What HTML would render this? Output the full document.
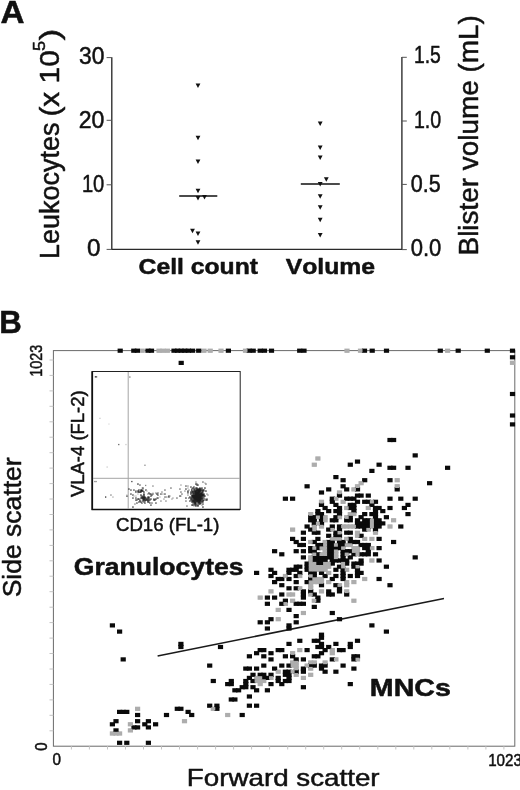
<!DOCTYPE html>
<html><head><meta charset="utf-8"><title>Figure</title>
<style>
html,body{margin:0;padding:0;background:#fff}
svg{display:block}
text{font-family:"Liberation Sans",sans-serif;fill:#111;stroke:#111;stroke-width:0.5px;stroke-linejoin:round;font-kerning:none}
.b{font-weight:bold}
</style></head><body>
<svg width="520" height="790" viewBox="0 0 520 790">
<rect width="520" height="790" fill="#fff"/>
<text x="0.62" y="22.7" font-size="31.5" textLength="24.0" lengthAdjust="spacingAndGlyphs" class="b">A</text>
<path d="M111.8 57.2V249.4H401.9V57" stroke="#2a2a2a" stroke-width="1.35" fill="none"/>
<path d="M106.6 57.6H111.8M106.6 120.3H111.8M106.6 184.8H111.8M106.6 249.4H111.8M401.9 57.3H406.8M401.9 121H406.8M401.9 184.4H406.8M401.9 249.6H406.8" stroke="#555" stroke-width="1" fill="none"/>
<text x="79.08" y="63.5" font-size="23" textLength="25.36" lengthAdjust="spacingAndGlyphs">30</text>
<text x="78.79" y="127.7" font-size="23" textLength="25.66" lengthAdjust="spacingAndGlyphs">20</text>
<text x="81.91" y="191.5" font-size="23" textLength="22.42" lengthAdjust="spacingAndGlyphs">10</text>
<text x="87.1" y="255.8" font-size="23" textLength="13.5" lengthAdjust="spacingAndGlyphs">0</text>
<text x="413.98" y="63.3" font-size="23" textLength="26.89" lengthAdjust="spacingAndGlyphs">1.5</text>
<text x="413.96" y="127.7" font-size="23" textLength="27.26" lengthAdjust="spacingAndGlyphs">1.0</text>
<text x="410.71" y="191.7" font-size="23" textLength="29.95" lengthAdjust="spacingAndGlyphs">0.5</text>
<text x="410.69" y="256" font-size="23" textLength="30.62" lengthAdjust="spacingAndGlyphs">0.0</text>
<text x="59.3" y="258.96" font-size="27.5" textLength="136.39" lengthAdjust="spacingAndGlyphs" transform="rotate(-90 59.3 258.96)">Leukocytes</text>
<text x="59.3" y="116.6" font-size="27.5" textLength="66.42" lengthAdjust="spacingAndGlyphs" transform="rotate(-90 59.3 116.6)">(x 10</text>
<text x="45.5" y="50.88" font-size="17" textLength="10.09" lengthAdjust="spacingAndGlyphs" transform="rotate(-90 45.5 50.88)">5</text>
<text x="59.3" y="40.46" font-size="27.5" textLength="11.81" lengthAdjust="spacingAndGlyphs" transform="rotate(-90 59.3 40.46)">)</text>
<text x="478.3" y="255.44" font-size="27.5" textLength="240.32" lengthAdjust="spacingAndGlyphs" transform="rotate(-90 478.3 255.44)">Blister volume (mL)</text>
<text x="138.64" y="273.8" font-size="22.6" textLength="119.31" lengthAdjust="spacingAndGlyphs" class="b">Cell count</text>
<text x="285.68" y="273.5" font-size="22.6" textLength="89.31" lengthAdjust="spacingAndGlyphs" class="b">Volume</text>
<g fill="#111"><path d="M195.6 83.4h4.8l-2.4 4.5z"/><path d="M195.6 135.7h4.8l-2.4 4.5z"/><path d="M195.6 159.4h4.8l-2.4 4.5z"/><path d="M195.6 188.7h4.8l-2.4 4.5z"/><path d="M195.6 196.1h4.8l-2.4 4.5z"/><path d="M202.1 194.9h4.8l-2.4 4.5z"/><path d="M190.1 228.7h4.8l-2.4 4.5z"/><path d="M195.6 231.4h4.8l-2.4 4.5z"/><path d="M195.6 240.2h4.8l-2.4 4.5z"/><path d="M317.8 121.6h4.8l-2.4 4.5z"/><path d="M317.8 145.6h4.8l-2.4 4.5z"/><path d="M317.8 155.4h4.8l-2.4 4.5z"/><path d="M323.9 177.3h4.8l-2.4 4.5z"/><path d="M317.8 181.9h4.8l-2.4 4.5z"/><path d="M317.8 194.2h4.8l-2.4 4.5z"/><path d="M317.8 205.3h4.8l-2.4 4.5z"/><path d="M317.8 217.7h4.8l-2.4 4.5z"/><path d="M317.8 232.9h4.8l-2.4 4.5z"/></g>
<path d="M179.2 196H217.3M300.8 184H339.8" stroke="#111" stroke-width="1.5"/>
<text x="-0.83" y="333" font-size="31" textLength="22.5" lengthAdjust="spacingAndGlyphs" class="b">B</text>
<rect x="53.4" y="350.6" width="461.4" height="395.6" fill="none" stroke="#6a6a6a" stroke-width="1"/>
<path d="M49.5 730.8H53.4M49.5 715.3H53.4M49.5 699.9H53.4M49.5 684.4H53.4M49.5 669.0H53.4M49.5 653.5H53.4M49.5 638.1H53.4M49.5 622.6H53.4M49.5 607.2H53.4M49.5 591.7H53.4M49.5 576.2H53.4M49.5 560.8H53.4M49.5 545.4H53.4M49.5 529.9H53.4M49.5 514.5H53.4M49.5 499.0H53.4M49.5 483.6H53.4M49.5 468.1H53.4M49.5 452.7H53.4M49.5 437.2H53.4M49.5 421.8H53.4M49.5 406.3H53.4M49.5 390.9H53.4M49.5 375.4H53.4M49.5 360.0H53.4M71.4 746.2V749.5M89.4 746.2V749.5M107.5 746.2V749.5M125.5 746.2V749.5M143.5 746.2V749.5M161.5 746.2V749.5M179.5 746.2V749.5M197.6 746.2V749.5M215.6 746.2V749.5M233.6 746.2V749.5M251.6 746.2V749.5M269.6 746.2V749.5M287.7 746.2V749.5M305.7 746.2V749.5M323.7 746.2V749.5M341.7 746.2V749.5M359.7 746.2V749.5M377.8 746.2V749.5M395.8 746.2V749.5M413.8 746.2V749.5M431.8 746.2V749.5M449.8 746.2V749.5M467.9 746.2V749.5M485.9 746.2V749.5M503.9 746.2V749.5" stroke="#c4c4c4" stroke-width="1"/>
<text x="41.7" y="376.85" font-size="16.3" textLength="32.03" lengthAdjust="spacingAndGlyphs" transform="rotate(-90 41.7 376.85)">1023</text>
<text x="47.1" y="750.83" font-size="16.5" textLength="8.26" lengthAdjust="spacingAndGlyphs" transform="rotate(-90 47.1 750.83)">0</text>
<text x="52.55" y="765.2" font-size="16.5" textLength="8.49" lengthAdjust="spacingAndGlyphs">0</text>
<text x="488.2" y="765.6" font-size="16.3" textLength="33.72" lengthAdjust="spacingAndGlyphs">1023</text>
<text x="21.5" y="597.35" font-size="25.6" textLength="140.04" lengthAdjust="spacingAndGlyphs" transform="rotate(-90 21.5 597.35)">Side scatter</text>
<text x="186.87" y="786.4" font-size="24" textLength="192.74" lengthAdjust="spacingAndGlyphs">Forward scatter</text>
<text x="73.76" y="574.6" font-size="23.7" textLength="169.78" lengthAdjust="spacingAndGlyphs" class="b">Granulocytes</text>
<text x="369.84" y="695.5" font-size="23.7" textLength="81.09" lengthAdjust="spacingAndGlyphs" class="b">MNCs</text>
<path d="M157.6 656L444 598.4" stroke="#1a1a1a" stroke-width="1.5"/>
<rect x="92" y="371.5" width="148.2" height="138" fill="#fff" stroke="#222" stroke-width="1"/>
<path d="M92.3 371.5V509.5H240" fill="none" stroke="#111" stroke-width="1.6"/>
<path d="M128.2 372V509M93 478.3H240" stroke="#a4a4a4" stroke-width="1" fill="none"/>
<text x="84.4" y="497.03" font-size="18" textLength="106.73" lengthAdjust="spacingAndGlyphs" stroke-width="0.2" transform="rotate(-90 84.4 497.03)">VLA-4 (FL-2)</text>
<text x="116.01" y="531" font-size="18.6" textLength="103.4" lengthAdjust="spacingAndGlyphs" stroke-width="0.2">CD16 (FL-1)</text>
<g><rect x="139.3" y="491.4" width="1.3" height="1.3" fill="#000"/><rect x="137.3" y="491.4" width="1.3" height="1.3" fill="#000"/><rect x="143.3" y="491.4" width="1.3" height="1.3" fill="#000"/><rect x="137.3" y="490.4" width="1.3" height="1.3" fill="#000"/><rect x="140.3" y="490.4" width="1.3" height="1.3" fill="#111"/><rect x="140.3" y="489.4" width="1.3" height="1.3" fill="#000"/><rect x="138.3" y="489.4" width="1.3" height="1.3" fill="#000"/><rect x="140.3" y="491.4" width="1.3" height="1.3" fill="#000"/><rect x="141.3" y="489.4" width="1.3" height="1.3" fill="#000"/><rect x="141.3" y="490.4" width="1.3" height="1.3" fill="#000"/><rect x="138.3" y="491.4" width="1.3" height="1.3" fill="#111"/><rect x="142.3" y="490.4" width="1.3" height="1.3" fill="#000"/><rect x="143.3" y="493.4" width="1.3" height="1.3" fill="#000"/><rect x="135.3" y="491.4" width="1.3" height="1.3" fill="#111"/><rect x="144.3" y="497.4" width="1.3" height="1.3" fill="#222"/><rect x="146.3" y="499.4" width="1.3" height="1.3" fill="#111"/><rect x="144.3" y="496.4" width="1.3" height="1.3" fill="#111"/><rect x="147.3" y="499.4" width="1.3" height="1.3" fill="#000"/><rect x="153.3" y="498.4" width="1.3" height="1.3" fill="#222"/><rect x="140.3" y="501.4" width="1.3" height="1.3" fill="#000"/><rect x="149.3" y="502.4" width="1.3" height="1.3" fill="#222"/><rect x="142.3" y="497.4" width="1.3" height="1.3" fill="#000"/><rect x="144.3" y="499.4" width="1.3" height="1.3" fill="#222"/><rect x="142.3" y="499.4" width="1.3" height="1.3" fill="#000"/><rect x="146.3" y="498.4" width="1.3" height="1.3" fill="#000"/><rect x="144.3" y="500.4" width="1.3" height="1.3" fill="#111"/><rect x="138.3" y="498.4" width="1.3" height="1.3" fill="#111"/><rect x="145.3" y="499.4" width="1.3" height="1.3" fill="#000"/><rect x="145.3" y="497.4" width="1.3" height="1.3" fill="#000"/><rect x="147.3" y="500.4" width="1.3" height="1.3" fill="#222"/><rect x="147.3" y="501.4" width="1.3" height="1.3" fill="#111"/><rect x="140.3" y="497.4" width="1.3" height="1.3" fill="#000"/><rect x="148.3" y="499.4" width="1.3" height="1.3" fill="#111"/><rect x="135.3" y="499.4" width="1.3" height="1.3" fill="#111"/><rect x="143.3" y="499.4" width="1.3" height="1.3" fill="#222"/><rect x="135.3" y="497.4" width="1.3" height="1.3" fill="#222"/><rect x="143.3" y="497.4" width="1.3" height="1.3" fill="#111"/><rect x="142.3" y="498.4" width="1.3" height="1.3" fill="#000"/><rect x="142.3" y="500.4" width="1.3" height="1.3" fill="#000"/><rect x="150.3" y="498.4" width="1.3" height="1.3" fill="#111"/><rect x="132.3" y="497.4" width="1.3" height="1.3" fill="#222"/><rect x="144.3" y="498.4" width="1.3" height="1.3" fill="#111"/><rect x="140.3" y="494.4" width="1.3" height="1.3" fill="#000"/><rect x="143.3" y="496.4" width="1.3" height="1.3" fill="#000"/><rect x="149.3" y="499.4" width="1.3" height="1.3" fill="#222"/><rect x="154.3" y="499.4" width="1.3" height="1.3" fill="#222"/><rect x="141.3" y="495.4" width="1.3" height="1.3" fill="#111"/><rect x="139.3" y="500.4" width="1.3" height="1.3" fill="#000"/><rect x="147.3" y="497.4" width="1.3" height="1.3" fill="#000"/><rect x="147.3" y="496.4" width="1.3" height="1.3" fill="#222"/><rect x="141.3" y="497.4" width="1.3" height="1.3" fill="#000"/><rect x="142.3" y="496.4" width="1.3" height="1.3" fill="#111"/><rect x="155.3" y="498.4" width="1.3" height="1.3" fill="#000"/><rect x="137.3" y="498.4" width="1.3" height="1.3" fill="#111"/><rect x="143.3" y="498.4" width="1.3" height="1.3" fill="#111"/><rect x="148.3" y="501.4" width="1.3" height="1.3" fill="#222"/><rect x="148.3" y="497.4" width="1.3" height="1.3" fill="#000"/><rect x="138.3" y="501.4" width="1.3" height="1.3" fill="#222"/><rect x="133.3" y="489.4" width="1.3" height="1.3" fill="#222"/><rect x="152.3" y="492.4" width="1.3" height="1.3" fill="#bbb"/><rect x="151.3" y="494.4" width="1.3" height="1.3" fill="#222"/><rect x="126.3" y="495.4" width="1.3" height="1.3" fill="#111"/><rect x="139.3" y="484.4" width="1.3" height="1.3" fill="#444"/><rect x="147.3" y="493.4" width="1.3" height="1.3" fill="#777"/><rect x="136.3" y="499.4" width="1.3" height="1.3" fill="#444"/><rect x="141.3" y="487.4" width="1.3" height="1.3" fill="#bbb"/><rect x="141.3" y="496.4" width="1.3" height="1.3" fill="#111"/><rect x="143.3" y="501.4" width="1.3" height="1.3" fill="#444"/><rect x="137.3" y="493.4" width="1.3" height="1.3" fill="#bbb"/><rect x="150.3" y="495.4" width="1.3" height="1.3" fill="#111"/><rect x="151.3" y="502.4" width="1.3" height="1.3" fill="#444"/><rect x="135.3" y="490.4" width="1.3" height="1.3" fill="#444"/><rect x="160.3" y="493.4" width="1.3" height="1.3" fill="#222"/><rect x="148.3" y="492.4" width="1.3" height="1.3" fill="#111"/><rect x="145.3" y="489.4" width="1.3" height="1.3" fill="#111"/><rect x="148.3" y="498.4" width="1.3" height="1.3" fill="#444"/><rect x="155.3" y="502.4" width="1.3" height="1.3" fill="#222"/><rect x="165.3" y="500.4" width="1.3" height="1.3" fill="#777"/><rect x="153.3" y="499.4" width="1.3" height="1.3" fill="#111"/><rect x="152.3" y="485.4" width="1.3" height="1.3" fill="#777"/><rect x="132.3" y="506.4" width="1.3" height="1.3" fill="#111"/><rect x="142.3" y="487.4" width="1.3" height="1.3" fill="#111"/><rect x="150.3" y="504.4" width="1.3" height="1.3" fill="#111"/><rect x="157.3" y="494.4" width="1.3" height="1.3" fill="#222"/><rect x="144.3" y="502.4" width="1.3" height="1.3" fill="#111"/><rect x="139.3" y="499.4" width="1.3" height="1.3" fill="#444"/><rect x="143.3" y="495.4" width="1.3" height="1.3" fill="#111"/><rect x="136.3" y="502.4" width="1.3" height="1.3" fill="#222"/><rect x="155.3" y="492.4" width="1.3" height="1.3" fill="#777"/><rect x="156.3" y="493.4" width="1.3" height="1.3" fill="#111"/><rect x="146.3" y="490.4" width="1.3" height="1.3" fill="#bbb"/><rect x="141.3" y="502.4" width="1.3" height="1.3" fill="#222"/><rect x="126.3" y="494.4" width="1.3" height="1.3" fill="#bbb"/><rect x="150.3" y="503.4" width="1.3" height="1.3" fill="#bbb"/><rect x="132.3" y="494.4" width="1.3" height="1.3" fill="#222"/><rect x="143.3" y="494.4" width="1.3" height="1.3" fill="#111"/><rect x="135.3" y="495.4" width="1.3" height="1.3" fill="#bbb"/><rect x="148.3" y="496.4" width="1.3" height="1.3" fill="#222"/><rect x="156.3" y="497.4" width="1.3" height="1.3" fill="#777"/><rect x="161.3" y="491.4" width="1.3" height="1.3" fill="#777"/><rect x="134.3" y="503.4" width="1.3" height="1.3" fill="#777"/><rect x="140.3" y="495.4" width="1.3" height="1.3" fill="#777"/><rect x="128.3" y="488.4" width="1.3" height="1.3" fill="#222"/><rect x="137.3" y="483.4" width="1.3" height="1.3" fill="#111"/><rect x="147.3" y="498.4" width="1.3" height="1.3" fill="#444"/><rect x="141.3" y="499.4" width="1.3" height="1.3" fill="#bbb"/><rect x="133.3" y="495.4" width="1.3" height="1.3" fill="#bbb"/><rect x="142.3" y="488.4" width="1.3" height="1.3" fill="#777"/><rect x="159.3" y="496.4" width="1.3" height="1.3" fill="#bbb"/><rect x="136.3" y="491.4" width="1.3" height="1.3" fill="#bbb"/><rect x="130.3" y="489.4" width="1.3" height="1.3" fill="#222"/><rect x="157.3" y="492.4" width="1.3" height="1.3" fill="#444"/><rect x="152.3" y="493.4" width="1.3" height="1.3" fill="#444"/><rect x="150.3" y="493.4" width="1.3" height="1.3" fill="#222"/><rect x="149.3" y="493.4" width="1.3" height="1.3" fill="#222"/><rect x="160.3" y="500.4" width="1.3" height="1.3" fill="#777"/><rect x="130.3" y="493.4" width="1.3" height="1.3" fill="#222"/><rect x="157.3" y="497.4" width="1.3" height="1.3" fill="#222"/><rect x="176.3" y="497.4" width="1.3" height="1.3" fill="#555"/><rect x="185.3" y="488.4" width="1.3" height="1.3" fill="#222"/><rect x="164.3" y="489.4" width="1.3" height="1.3" fill="#555"/><rect x="168.3" y="495.4" width="1.3" height="1.3" fill="#222"/><rect x="180.3" y="495.4" width="1.3" height="1.3" fill="#999"/><rect x="168.3" y="496.4" width="1.3" height="1.3" fill="#222"/><rect x="180.3" y="484.4" width="1.3" height="1.3" fill="#999"/><rect x="169.3" y="495.4" width="1.3" height="1.3" fill="#999"/><rect x="163.3" y="498.4" width="1.3" height="1.3" fill="#999"/><rect x="164.3" y="496.4" width="1.3" height="1.3" fill="#555"/><rect x="179.3" y="495.4" width="1.3" height="1.3" fill="#222"/><rect x="171.3" y="498.4" width="1.3" height="1.3" fill="#999"/><rect x="164.3" y="493.4" width="1.3" height="1.3" fill="#222"/><rect x="165.3" y="496.4" width="1.3" height="1.3" fill="#999"/><rect x="179.3" y="488.4" width="1.3" height="1.3" fill="#555"/><rect x="162.3" y="493.4" width="1.3" height="1.3" fill="#999"/><rect x="181.3" y="493.4" width="1.3" height="1.3" fill="#555"/><rect x="166.3" y="496.4" width="1.3" height="1.3" fill="#999"/><rect x="170.3" y="487.4" width="1.3" height="1.3" fill="#555"/><rect x="172.3" y="497.4" width="1.3" height="1.3" fill="#999"/><rect x="195.3" y="489.4" width="1.3" height="1.3" fill="#000"/><rect x="192.3" y="499.4" width="1.3" height="1.3" fill="#000"/><rect x="197.3" y="492.4" width="1.3" height="1.3" fill="#000"/><rect x="200.3" y="496.4" width="1.3" height="1.3" fill="#000"/><rect x="197.3" y="505.4" width="1.3" height="1.3" fill="#000"/><rect x="194.3" y="500.4" width="1.3" height="1.3" fill="#111"/><rect x="193.3" y="494.4" width="1.3" height="1.3" fill="#000"/><rect x="193.3" y="490.4" width="1.3" height="1.3" fill="#000"/><rect x="197.3" y="495.4" width="1.3" height="1.3" fill="#000"/><rect x="196.3" y="492.4" width="1.3" height="1.3" fill="#000"/><rect x="191.3" y="495.4" width="1.3" height="1.3" fill="#111"/><rect x="199.3" y="496.4" width="1.3" height="1.3" fill="#000"/><rect x="200.3" y="492.4" width="1.3" height="1.3" fill="#111"/><rect x="201.3" y="494.4" width="1.3" height="1.3" fill="#000"/><rect x="192.3" y="493.4" width="1.3" height="1.3" fill="#000"/><rect x="191.3" y="501.4" width="1.3" height="1.3" fill="#222"/><rect x="195.3" y="496.4" width="1.3" height="1.3" fill="#000"/><rect x="192.3" y="494.4" width="1.3" height="1.3" fill="#000"/><rect x="200.3" y="494.4" width="1.3" height="1.3" fill="#111"/><rect x="194.3" y="493.4" width="1.3" height="1.3" fill="#000"/><rect x="194.3" y="496.4" width="1.3" height="1.3" fill="#000"/><rect x="194.3" y="490.4" width="1.3" height="1.3" fill="#000"/><rect x="194.3" y="492.4" width="1.3" height="1.3" fill="#111"/><rect x="206.3" y="499.4" width="1.3" height="1.3" fill="#111"/><rect x="203.3" y="499.4" width="1.3" height="1.3" fill="#111"/><rect x="198.3" y="496.4" width="1.3" height="1.3" fill="#000"/><rect x="202.3" y="503.4" width="1.3" height="1.3" fill="#111"/><rect x="195.3" y="494.4" width="1.3" height="1.3" fill="#000"/><rect x="195.3" y="497.4" width="1.3" height="1.3" fill="#000"/><rect x="192.3" y="497.4" width="1.3" height="1.3" fill="#000"/><rect x="193.3" y="492.4" width="1.3" height="1.3" fill="#000"/><rect x="193.3" y="500.4" width="1.3" height="1.3" fill="#000"/><rect x="202.3" y="493.4" width="1.3" height="1.3" fill="#111"/><rect x="193.3" y="496.4" width="1.3" height="1.3" fill="#000"/><rect x="198.3" y="490.4" width="1.3" height="1.3" fill="#000"/><rect x="196.3" y="501.4" width="1.3" height="1.3" fill="#000"/><rect x="199.3" y="495.4" width="1.3" height="1.3" fill="#000"/><rect x="196.3" y="494.4" width="1.3" height="1.3" fill="#000"/><rect x="194.3" y="501.4" width="1.3" height="1.3" fill="#000"/><rect x="198.3" y="491.4" width="1.3" height="1.3" fill="#000"/><rect x="191.3" y="498.4" width="1.3" height="1.3" fill="#111"/><rect x="198.3" y="492.4" width="1.3" height="1.3" fill="#000"/><rect x="195.3" y="502.4" width="1.3" height="1.3" fill="#000"/><rect x="194.3" y="497.4" width="1.3" height="1.3" fill="#000"/><rect x="193.3" y="497.4" width="1.3" height="1.3" fill="#000"/><rect x="194.3" y="503.4" width="1.3" height="1.3" fill="#000"/><rect x="195.3" y="491.4" width="1.3" height="1.3" fill="#000"/><rect x="196.3" y="497.4" width="1.3" height="1.3" fill="#000"/><rect x="195.3" y="492.4" width="1.3" height="1.3" fill="#000"/><rect x="195.3" y="499.4" width="1.3" height="1.3" fill="#000"/><rect x="202.3" y="499.4" width="1.3" height="1.3" fill="#000"/><rect x="194.3" y="498.4" width="1.3" height="1.3" fill="#000"/><rect x="198.3" y="489.4" width="1.3" height="1.3" fill="#000"/><rect x="199.3" y="501.4" width="1.3" height="1.3" fill="#111"/><rect x="197.3" y="493.4" width="1.3" height="1.3" fill="#000"/><rect x="193.3" y="489.4" width="1.3" height="1.3" fill="#000"/><rect x="194.3" y="494.4" width="1.3" height="1.3" fill="#000"/><rect x="195.3" y="498.4" width="1.3" height="1.3" fill="#000"/><rect x="198.3" y="494.4" width="1.3" height="1.3" fill="#000"/><rect x="202.3" y="500.4" width="1.3" height="1.3" fill="#111"/><rect x="197.3" y="498.4" width="1.3" height="1.3" fill="#000"/><rect x="197.3" y="491.4" width="1.3" height="1.3" fill="#000"/><rect x="193.3" y="495.4" width="1.3" height="1.3" fill="#000"/><rect x="195.3" y="487.4" width="1.3" height="1.3" fill="#111"/><rect x="197.3" y="484.4" width="1.3" height="1.3" fill="#111"/><rect x="200.3" y="490.4" width="1.3" height="1.3" fill="#000"/><rect x="203.3" y="489.4" width="1.3" height="1.3" fill="#000"/><rect x="191.3" y="494.4" width="1.3" height="1.3" fill="#000"/><rect x="191.3" y="496.4" width="1.3" height="1.3" fill="#000"/><rect x="201.3" y="492.4" width="1.3" height="1.3" fill="#000"/><rect x="190.3" y="491.4" width="1.3" height="1.3" fill="#000"/><rect x="196.3" y="498.4" width="1.3" height="1.3" fill="#000"/><rect x="199.3" y="493.4" width="1.3" height="1.3" fill="#000"/><rect x="191.3" y="488.4" width="1.3" height="1.3" fill="#222"/><rect x="199.3" y="492.4" width="1.3" height="1.3" fill="#111"/><rect x="197.3" y="497.4" width="1.3" height="1.3" fill="#000"/><rect x="202.3" y="494.4" width="1.3" height="1.3" fill="#000"/><rect x="197.3" y="494.4" width="1.3" height="1.3" fill="#000"/><rect x="202.3" y="490.4" width="1.3" height="1.3" fill="#111"/><rect x="190.3" y="486.4" width="1.3" height="1.3" fill="#111"/><rect x="196.3" y="495.4" width="1.3" height="1.3" fill="#000"/><rect x="203.3" y="495.4" width="1.3" height="1.3" fill="#111"/><rect x="198.3" y="500.4" width="1.3" height="1.3" fill="#000"/><rect x="200.3" y="502.4" width="1.3" height="1.3" fill="#111"/><rect x="201.3" y="495.4" width="1.3" height="1.3" fill="#000"/><rect x="196.3" y="491.4" width="1.3" height="1.3" fill="#000"/><rect x="201.3" y="489.4" width="1.3" height="1.3" fill="#111"/><rect x="197.3" y="490.4" width="1.3" height="1.3" fill="#000"/><rect x="193.3" y="504.4" width="1.3" height="1.3" fill="#222"/><rect x="198.3" y="497.4" width="1.3" height="1.3" fill="#000"/><rect x="200.3" y="499.4" width="1.3" height="1.3" fill="#111"/><rect x="198.3" y="499.4" width="1.3" height="1.3" fill="#000"/><rect x="206.3" y="498.4" width="1.3" height="1.3" fill="#222"/><rect x="196.3" y="496.4" width="1.3" height="1.3" fill="#000"/><rect x="197.3" y="488.4" width="1.3" height="1.3" fill="#111"/><rect x="189.3" y="496.4" width="1.3" height="1.3" fill="#000"/><rect x="196.3" y="490.4" width="1.3" height="1.3" fill="#111"/><rect x="202.3" y="495.4" width="1.3" height="1.3" fill="#000"/><rect x="197.3" y="499.4" width="1.3" height="1.3" fill="#000"/><rect x="199.3" y="490.4" width="1.3" height="1.3" fill="#000"/><rect x="196.3" y="500.4" width="1.3" height="1.3" fill="#000"/><rect x="192.3" y="492.4" width="1.3" height="1.3" fill="#000"/><rect x="197.3" y="500.4" width="1.3" height="1.3" fill="#000"/><rect x="195.3" y="504.4" width="1.3" height="1.3" fill="#111"/><rect x="195.3" y="501.4" width="1.3" height="1.3" fill="#111"/><rect x="199.3" y="498.4" width="1.3" height="1.3" fill="#000"/><rect x="193.3" y="498.4" width="1.3" height="1.3" fill="#000"/><rect x="200.3" y="489.4" width="1.3" height="1.3" fill="#111"/><rect x="200.3" y="493.4" width="1.3" height="1.3" fill="#000"/><rect x="200.3" y="495.4" width="1.3" height="1.3" fill="#000"/><rect x="194.3" y="495.4" width="1.3" height="1.3" fill="#000"/><rect x="192.3" y="487.4" width="1.3" height="1.3" fill="#000"/><rect x="198.3" y="502.4" width="1.3" height="1.3" fill="#000"/><rect x="201.3" y="491.4" width="1.3" height="1.3" fill="#111"/><rect x="200.3" y="500.4" width="1.3" height="1.3" fill="#000"/><rect x="197.3" y="496.4" width="1.3" height="1.3" fill="#000"/><rect x="195.3" y="500.4" width="1.3" height="1.3" fill="#111"/><rect x="198.3" y="493.4" width="1.3" height="1.3" fill="#000"/><rect x="199.3" y="502.4" width="1.3" height="1.3" fill="#111"/><rect x="195.3" y="493.4" width="1.3" height="1.3" fill="#000"/><rect x="196.3" y="493.4" width="1.3" height="1.3" fill="#000"/><rect x="198.3" y="498.4" width="1.3" height="1.3" fill="#000"/><rect x="202.3" y="506.4" width="1.3" height="1.3" fill="#111"/><rect x="199.3" y="503.4" width="1.3" height="1.3" fill="#000"/><rect x="191.3" y="489.4" width="1.3" height="1.3" fill="#222"/><rect x="204.3" y="495.4" width="1.3" height="1.3" fill="#000"/><rect x="192.3" y="491.4" width="1.3" height="1.3" fill="#000"/><rect x="191.3" y="492.4" width="1.3" height="1.3" fill="#111"/><rect x="194.3" y="488.4" width="1.3" height="1.3" fill="#222"/><rect x="200.3" y="497.4" width="1.3" height="1.3" fill="#000"/><rect x="199.3" y="499.4" width="1.3" height="1.3" fill="#000"/><rect x="200.3" y="498.4" width="1.3" height="1.3" fill="#000"/><rect x="192.3" y="500.4" width="1.3" height="1.3" fill="#000"/><rect x="192.3" y="495.4" width="1.3" height="1.3" fill="#000"/><rect x="196.3" y="499.4" width="1.3" height="1.3" fill="#000"/><rect x="196.3" y="488.4" width="1.3" height="1.3" fill="#111"/><rect x="197.3" y="489.4" width="1.3" height="1.3" fill="#000"/><rect x="190.3" y="498.4" width="1.3" height="1.3" fill="#222"/><rect x="192.3" y="496.4" width="1.3" height="1.3" fill="#000"/><rect x="192.3" y="501.4" width="1.3" height="1.3" fill="#111"/><rect x="201.3" y="501.4" width="1.3" height="1.3" fill="#222"/><rect x="203.3" y="493.4" width="1.3" height="1.3" fill="#111"/><rect x="196.3" y="487.4" width="1.3" height="1.3" fill="#111"/><rect x="202.3" y="501.4" width="1.3" height="1.3" fill="#222"/><rect x="199.3" y="488.4" width="1.3" height="1.3" fill="#111"/><rect x="202.3" y="497.4" width="1.3" height="1.3" fill="#000"/><rect x="200.3" y="488.4" width="1.3" height="1.3" fill="#222"/><rect x="191.3" y="504.4" width="1.3" height="1.3" fill="#111"/><rect x="205.3" y="490.4" width="1.3" height="1.3" fill="#000"/><rect x="193.3" y="486.4" width="1.3" height="1.3" fill="#111"/><rect x="199.3" y="500.4" width="1.3" height="1.3" fill="#000"/><rect x="204.3" y="487.4" width="1.3" height="1.3" fill="#000"/><rect x="197.3" y="501.4" width="1.3" height="1.3" fill="#111"/><rect x="192.3" y="490.4" width="1.3" height="1.3" fill="#111"/><rect x="195.3" y="483.4" width="1.3" height="1.3" fill="#000"/><rect x="191.3" y="500.4" width="1.3" height="1.3" fill="#222"/><rect x="197.3" y="502.4" width="1.3" height="1.3" fill="#222"/><rect x="199.3" y="491.4" width="1.3" height="1.3" fill="#000"/><rect x="185.3" y="497.4" width="1.3" height="1.3" fill="#111"/><rect x="191.3" y="499.4" width="1.3" height="1.3" fill="#222"/><rect x="195.3" y="505.4" width="1.3" height="1.3" fill="#111"/><rect x="199.3" y="497.4" width="1.3" height="1.3" fill="#000"/><rect x="199.3" y="489.4" width="1.3" height="1.3" fill="#000"/><rect x="197.3" y="504.4" width="1.3" height="1.3" fill="#000"/><rect x="198.3" y="495.4" width="1.3" height="1.3" fill="#000"/><rect x="189.3" y="500.4" width="1.3" height="1.3" fill="#111"/><rect x="199.3" y="494.4" width="1.3" height="1.3" fill="#000"/><rect x="201.3" y="500.4" width="1.3" height="1.3" fill="#222"/><rect x="205.3" y="499.4" width="1.3" height="1.3" fill="#222"/><rect x="201.3" y="496.4" width="1.3" height="1.3" fill="#111"/><rect x="187.3" y="491.4" width="1.3" height="1.3" fill="#222"/><rect x="201.3" y="487.4" width="1.3" height="1.3" fill="#111"/><rect x="194.3" y="499.4" width="1.3" height="1.3" fill="#000"/><rect x="203.3" y="494.4" width="1.3" height="1.3" fill="#111"/><rect x="194.3" y="491.4" width="1.3" height="1.3" fill="#000"/><rect x="193.3" y="488.4" width="1.3" height="1.3" fill="#111"/><rect x="201.3" y="493.4" width="1.3" height="1.3" fill="#000"/><rect x="195.3" y="495.4" width="1.3" height="1.3" fill="#000"/><rect x="190.3" y="497.4" width="1.3" height="1.3" fill="#111"/><rect x="193.3" y="501.4" width="1.3" height="1.3" fill="#111"/><rect x="198.3" y="488.4" width="1.3" height="1.3" fill="#000"/><rect x="195.3" y="490.4" width="1.3" height="1.3" fill="#000"/><rect x="198.3" y="501.4" width="1.3" height="1.3" fill="#000"/><rect x="202.3" y="491.4" width="1.3" height="1.3" fill="#000"/><rect x="192.3" y="504.4" width="1.3" height="1.3" fill="#111"/><rect x="199.3" y="487.4" width="1.3" height="1.3" fill="#000"/><rect x="201.3" y="497.4" width="1.3" height="1.3" fill="#111"/><rect x="194.3" y="502.4" width="1.3" height="1.3" fill="#000"/><rect x="195.3" y="503.4" width="1.3" height="1.3" fill="#111"/><rect x="193.3" y="502.4" width="1.3" height="1.3" fill="#111"/><rect x="196.3" y="489.4" width="1.3" height="1.3" fill="#000"/><rect x="190.3" y="493.4" width="1.3" height="1.3" fill="#000"/><rect x="191.3" y="490.4" width="1.3" height="1.3" fill="#000"/><rect x="202.3" y="489.4" width="1.3" height="1.3" fill="#000"/><rect x="193.3" y="499.4" width="1.3" height="1.3" fill="#111"/><rect x="203.3" y="497.4" width="1.3" height="1.3" fill="#111"/><rect x="201.3" y="498.4" width="1.3" height="1.3" fill="#000"/><rect x="196.3" y="484.4" width="1.3" height="1.3" fill="#333"/><rect x="196.3" y="503.4" width="1.3" height="1.3" fill="#555"/><rect x="185.3" y="485.4" width="1.3" height="1.3" fill="#333"/><rect x="202.3" y="498.4" width="1.3" height="1.3" fill="#333"/><rect x="191.3" y="497.4" width="1.3" height="1.3" fill="#333"/><rect x="190.3" y="499.4" width="1.3" height="1.3" fill="#333"/><rect x="201.3" y="504.4" width="1.3" height="1.3" fill="#888"/><rect x="196.3" y="483.4" width="1.3" height="1.3" fill="#555"/><rect x="187.3" y="485.4" width="1.3" height="1.3" fill="#888"/><rect x="195.3" y="481.4" width="1.3" height="1.3" fill="#888"/><rect x="188.3" y="489.4" width="1.3" height="1.3" fill="#888"/><rect x="207.3" y="494.4" width="1.3" height="1.3" fill="#888"/><rect x="188.3" y="497.4" width="1.3" height="1.3" fill="#333"/><rect x="192.3" y="502.4" width="1.3" height="1.3" fill="#555"/><rect x="194.3" y="504.4" width="1.3" height="1.3" fill="#333"/><rect x="191.3" y="493.4" width="1.3" height="1.3" fill="#aaa"/><rect x="190.3" y="492.4" width="1.3" height="1.3" fill="#333"/><rect x="204.3" y="498.4" width="1.3" height="1.3" fill="#555"/><rect x="204.3" y="482.4" width="1.3" height="1.3" fill="#aaa"/><rect x="187.3" y="492.4" width="1.3" height="1.3" fill="#555"/><rect x="185.3" y="500.4" width="1.3" height="1.3" fill="#555"/><rect x="187.3" y="490.4" width="1.3" height="1.3" fill="#333"/><rect x="186.3" y="505.4" width="1.3" height="1.3" fill="#555"/><rect x="184.3" y="490.4" width="1.3" height="1.3" fill="#888"/><rect x="201.3" y="488.4" width="1.3" height="1.3" fill="#555"/><rect x="193.3" y="505.4" width="1.3" height="1.3" fill="#aaa"/><rect x="206.3" y="493.4" width="1.3" height="1.3" fill="#888"/><rect x="203.3" y="498.4" width="1.3" height="1.3" fill="#aaa"/><rect x="204.3" y="490.4" width="1.3" height="1.3" fill="#888"/><rect x="180.3" y="491.4" width="1.3" height="1.3" fill="#555"/><rect x="187.3" y="487.4" width="1.3" height="1.3" fill="#aaa"/><rect x="192.3" y="489.4" width="1.3" height="1.3" fill="#aaa"/><rect x="202.3" y="481.4" width="1.3" height="1.3" fill="#555"/><rect x="198.3" y="503.4" width="1.3" height="1.3" fill="#333"/><rect x="196.3" y="502.4" width="1.3" height="1.3" fill="#888"/><rect x="205.3" y="483.4" width="1.3" height="1.3" fill="#555"/><rect x="187.3" y="494.4" width="1.3" height="1.3" fill="#888"/><rect x="105.0" y="496.4" width="1.3" height="1.3" fill="#333"/><rect x="110.3" y="494.4" width="1.3" height="1.3" fill="#777"/><rect x="131.2" y="480.9" width="1.3" height="1.3" fill="#444"/><rect x="145.0" y="484.8" width="1.3" height="1.3" fill="#888"/><rect x="94.8" y="376.2" width="1.3" height="1.3" fill="#333"/><rect x="95.9" y="376.2" width="1.3" height="1.3" fill="#555"/><rect x="129.2" y="376.4" width="1.3" height="1.3" fill="#777"/><rect x="99.3" y="417.7" width="1.3" height="1.3" fill="#ccc"/><rect x="108.3" y="423.4" width="1.3" height="1.3" fill="#ddd"/><rect x="118.1" y="443.9" width="1.3" height="1.3" fill="#666"/><rect x="125.3" y="443.9" width="1.3" height="1.3" fill="#ccc"/><rect x="106.5" y="466.4" width="1.3" height="1.3" fill="#ccc"/><rect x="144.3" y="464.6" width="1.3" height="1.3" fill="#888"/><rect x="94.3" y="480.9" width="1.3" height="1.3" fill="#777"/><rect x="95.6" y="480.9" width="1.3" height="1.3" fill="#999"/><rect x="112.3" y="496.4" width="1.3" height="1.3" fill="#aaa"/></g>
<g fill="#adadad"><rect x="315.3" y="456.4" width="5.2" height="4.2"/><rect x="311.7" y="462.6" width="5.2" height="4.2"/><rect x="336.9" y="490.4" width="5.2" height="4.2"/><rect x="394.6" y="478.1" width="5.2" height="4.2"/><rect x="358.5" y="481.1" width="5.2" height="4.2"/><rect x="354.9" y="484.2" width="5.2" height="4.2"/><rect x="394.6" y="484.2" width="5.2" height="4.2"/><rect x="351.3" y="487.3" width="5.2" height="4.2"/><rect x="290.0" y="527.5" width="5.2" height="4.2"/><rect x="282.8" y="573.9" width="5.2" height="4.2"/><rect x="268.4" y="589.3" width="5.2" height="4.2"/><rect x="286.4" y="592.4" width="5.2" height="4.2"/><rect x="290.0" y="592.4" width="5.2" height="4.2"/><rect x="257.6" y="595.5" width="5.2" height="4.2"/><rect x="290.0" y="598.6" width="5.2" height="4.2"/><rect x="282.8" y="601.7" width="5.2" height="4.2"/><rect x="275.6" y="607.8" width="5.2" height="4.2"/><rect x="275.6" y="617.1" width="5.2" height="4.2"/><rect x="254.0" y="678.9" width="5.2" height="4.2"/><rect x="210.7" y="706.7" width="5.2" height="4.2"/><rect x="225.1" y="712.9" width="5.2" height="4.2"/><rect x="181.9" y="719.1" width="5.2" height="4.2"/><rect x="257.6" y="678.9" width="5.2" height="4.2"/><rect x="261.2" y="678.9" width="5.2" height="4.2"/><rect x="257.6" y="682.0" width="5.2" height="4.2"/><rect x="135.0" y="706.7" width="5.2" height="4.2"/><rect x="127.8" y="722.2" width="5.2" height="4.2"/><rect x="127.8" y="728.3" width="5.2" height="4.2"/><rect x="109.8" y="731.4" width="5.2" height="4.2"/><rect x="113.4" y="731.4" width="5.2" height="4.2"/><rect x="117.0" y="731.4" width="5.2" height="4.2"/><rect x="333.3" y="496.6" width="5.2" height="4.2"/><rect x="318.9" y="499.7" width="5.2" height="4.2"/><rect x="340.5" y="499.7" width="5.2" height="4.2"/><rect x="344.1" y="505.9" width="5.2" height="4.2"/><rect x="308.1" y="512.0" width="5.2" height="4.2"/><rect x="347.7" y="512.0" width="5.2" height="4.2"/><rect x="315.3" y="515.1" width="5.2" height="4.2"/><rect x="322.5" y="515.1" width="5.2" height="4.2"/><rect x="336.9" y="515.1" width="5.2" height="4.2"/><rect x="344.1" y="515.1" width="5.2" height="4.2"/><rect x="322.5" y="518.2" width="5.2" height="4.2"/><rect x="315.3" y="521.3" width="5.2" height="4.2"/><rect x="311.7" y="524.4" width="5.2" height="4.2"/><rect x="318.9" y="524.4" width="5.2" height="4.2"/><rect x="340.5" y="524.4" width="5.2" height="4.2"/><rect x="344.1" y="524.4" width="5.2" height="4.2"/><rect x="347.7" y="524.4" width="5.2" height="4.2"/><rect x="311.7" y="527.5" width="5.2" height="4.2"/><rect x="329.7" y="527.5" width="5.2" height="4.2"/><rect x="336.9" y="530.6" width="5.2" height="4.2"/><rect x="369.3" y="499.7" width="5.2" height="4.2"/><rect x="365.7" y="505.9" width="5.2" height="4.2"/><rect x="351.3" y="512.0" width="5.2" height="4.2"/><rect x="369.3" y="518.2" width="5.2" height="4.2"/><rect x="391.0" y="518.2" width="5.2" height="4.2"/><rect x="369.3" y="521.3" width="5.2" height="4.2"/><rect x="351.3" y="524.4" width="5.2" height="4.2"/><rect x="369.3" y="524.4" width="5.2" height="4.2"/><rect x="387.4" y="524.4" width="5.2" height="4.2"/><rect x="365.7" y="527.5" width="5.2" height="4.2"/><rect x="354.9" y="530.6" width="5.2" height="4.2"/><rect x="372.9" y="530.6" width="5.2" height="4.2"/><rect x="329.7" y="536.8" width="5.2" height="4.2"/><rect x="333.3" y="536.8" width="5.2" height="4.2"/><rect x="336.9" y="536.8" width="5.2" height="4.2"/><rect x="344.1" y="536.8" width="5.2" height="4.2"/><rect x="308.1" y="539.9" width="5.2" height="4.2"/><rect x="322.5" y="539.9" width="5.2" height="4.2"/><rect x="322.5" y="542.9" width="5.2" height="4.2"/><rect x="333.3" y="542.9" width="5.2" height="4.2"/><rect x="344.1" y="542.9" width="5.2" height="4.2"/><rect x="347.7" y="542.9" width="5.2" height="4.2"/><rect x="311.7" y="546.0" width="5.2" height="4.2"/><rect x="318.9" y="546.0" width="5.2" height="4.2"/><rect x="322.5" y="546.0" width="5.2" height="4.2"/><rect x="340.5" y="546.0" width="5.2" height="4.2"/><rect x="322.5" y="549.1" width="5.2" height="4.2"/><rect x="333.3" y="549.1" width="5.2" height="4.2"/><rect x="311.7" y="552.2" width="5.2" height="4.2"/><rect x="318.9" y="552.2" width="5.2" height="4.2"/><rect x="322.5" y="552.2" width="5.2" height="4.2"/><rect x="333.3" y="552.2" width="5.2" height="4.2"/><rect x="344.1" y="552.2" width="5.2" height="4.2"/><rect x="308.1" y="555.3" width="5.2" height="4.2"/><rect x="333.3" y="555.3" width="5.2" height="4.2"/><rect x="308.1" y="558.4" width="5.2" height="4.2"/><rect x="308.1" y="561.5" width="5.2" height="4.2"/><rect x="311.7" y="561.5" width="5.2" height="4.2"/><rect x="322.5" y="561.5" width="5.2" height="4.2"/><rect x="326.1" y="561.5" width="5.2" height="4.2"/><rect x="340.5" y="561.5" width="5.2" height="4.2"/><rect x="308.1" y="564.6" width="5.2" height="4.2"/><rect x="311.7" y="564.6" width="5.2" height="4.2"/><rect x="315.3" y="564.6" width="5.2" height="4.2"/><rect x="318.9" y="564.6" width="5.2" height="4.2"/><rect x="322.5" y="564.6" width="5.2" height="4.2"/><rect x="326.1" y="564.6" width="5.2" height="4.2"/><rect x="340.5" y="564.6" width="5.2" height="4.2"/><rect x="308.1" y="567.7" width="5.2" height="4.2"/><rect x="311.7" y="567.7" width="5.2" height="4.2"/><rect x="315.3" y="567.7" width="5.2" height="4.2"/><rect x="318.9" y="567.7" width="5.2" height="4.2"/><rect x="322.5" y="567.7" width="5.2" height="4.2"/><rect x="344.1" y="567.7" width="5.2" height="4.2"/><rect x="326.1" y="570.8" width="5.2" height="4.2"/><rect x="354.9" y="533.7" width="5.2" height="4.2"/><rect x="362.1" y="536.8" width="5.2" height="4.2"/><rect x="369.3" y="536.8" width="5.2" height="4.2"/><rect x="351.3" y="546.0" width="5.2" height="4.2"/><rect x="354.9" y="546.0" width="5.2" height="4.2"/><rect x="369.3" y="546.0" width="5.2" height="4.2"/><rect x="351.3" y="549.1" width="5.2" height="4.2"/><rect x="354.9" y="549.1" width="5.2" height="4.2"/><rect x="354.9" y="552.2" width="5.2" height="4.2"/><rect x="369.3" y="558.4" width="5.2" height="4.2"/><rect x="354.9" y="564.6" width="5.2" height="4.2"/><rect x="297.2" y="573.9" width="5.2" height="4.2"/><rect x="308.1" y="573.9" width="5.2" height="4.2"/><rect x="311.7" y="576.9" width="5.2" height="4.2"/><rect x="315.3" y="576.9" width="5.2" height="4.2"/><rect x="318.9" y="576.9" width="5.2" height="4.2"/><rect x="308.1" y="580.0" width="5.2" height="4.2"/><rect x="311.7" y="580.0" width="5.2" height="4.2"/><rect x="315.3" y="580.0" width="5.2" height="4.2"/><rect x="318.9" y="580.0" width="5.2" height="4.2"/><rect x="326.1" y="580.0" width="5.2" height="4.2"/><rect x="344.1" y="580.0" width="5.2" height="4.2"/><rect x="308.1" y="583.1" width="5.2" height="4.2"/><rect x="336.9" y="583.1" width="5.2" height="4.2"/><rect x="344.1" y="583.1" width="5.2" height="4.2"/><rect x="297.2" y="586.2" width="5.2" height="4.2"/><rect x="308.1" y="586.2" width="5.2" height="4.2"/><rect x="318.9" y="589.3" width="5.2" height="4.2"/><rect x="344.1" y="589.3" width="5.2" height="4.2"/><rect x="308.1" y="592.4" width="5.2" height="4.2"/><rect x="311.7" y="598.6" width="5.2" height="4.2"/><rect x="300.8" y="610.9" width="5.2" height="4.2"/><rect x="362.1" y="576.9" width="5.2" height="4.2"/><rect x="351.3" y="580.0" width="5.2" height="4.2"/><rect x="351.3" y="598.6" width="5.2" height="4.2"/><rect x="297.2" y="648.0" width="5.2" height="4.2"/><rect x="329.7" y="648.0" width="5.2" height="4.2"/><rect x="329.7" y="651.1" width="5.2" height="4.2"/><rect x="333.3" y="657.3" width="5.2" height="4.2"/><rect x="354.9" y="657.3" width="5.2" height="4.2"/><rect x="308.1" y="660.4" width="5.2" height="4.2"/><rect x="311.7" y="660.4" width="5.2" height="4.2"/><rect x="322.5" y="660.4" width="5.2" height="4.2"/><rect x="304.5" y="663.5" width="5.2" height="4.2"/><rect x="308.1" y="666.5" width="5.2" height="4.2"/><rect x="308.1" y="672.7" width="5.2" height="4.2"/><rect x="300.8" y="675.8" width="5.2" height="4.2"/><rect x="290.0" y="651.1" width="5.2" height="4.2"/><rect x="290.0" y="660.4" width="5.2" height="4.2"/><rect x="293.6" y="660.4" width="5.2" height="4.2"/><rect x="290.0" y="663.5" width="5.2" height="4.2"/><rect x="293.6" y="663.5" width="5.2" height="4.2"/><rect x="293.6" y="666.5" width="5.2" height="4.2"/><rect x="275.6" y="669.6" width="5.2" height="4.2"/><rect x="290.0" y="669.6" width="5.2" height="4.2"/><rect x="293.6" y="672.7" width="5.2" height="4.2"/><rect x="254.0" y="675.8" width="5.2" height="4.2"/><rect x="257.6" y="675.8" width="5.2" height="4.2"/><rect x="268.4" y="675.8" width="5.2" height="4.2"/><rect x="139.6" y="348.6" width="5.2" height="4.2"/><rect x="156.4" y="348.6" width="5.2" height="4.2"/><rect x="160.4" y="348.6" width="5.2" height="4.2"/><rect x="164.9" y="348.6" width="5.2" height="4.2"/><rect x="201.4" y="348.6" width="5.2" height="4.2"/><rect x="207.6" y="348.6" width="5.2" height="4.2"/><rect x="218.4" y="348.6" width="5.2" height="4.2"/><rect x="242.9" y="348.6" width="5.2" height="4.2"/><rect x="344.4" y="348.6" width="5.2" height="4.2"/><rect x="357.9" y="348.6" width="5.2" height="4.2"/><rect x="445.0" y="348.6" width="5.2" height="4.2"/><rect x="509.9" y="360.7" width="5.2" height="4.2"/></g>
<g fill="#0a0a0a"><rect x="333.3" y="475.0" width="5.2" height="4.2"/><rect x="304.5" y="484.2" width="5.2" height="4.2"/><rect x="326.1" y="487.3" width="5.2" height="4.2"/><rect x="318.9" y="490.4" width="5.2" height="4.2"/><rect x="282.8" y="496.6" width="5.2" height="4.2"/><rect x="290.0" y="496.6" width="5.2" height="4.2"/><rect x="387.4" y="437.9" width="5.2" height="4.2"/><rect x="391.0" y="437.9" width="5.2" height="4.2"/><rect x="412.6" y="453.3" width="5.2" height="4.2"/><rect x="354.9" y="459.5" width="5.2" height="4.2"/><rect x="347.7" y="462.6" width="5.2" height="4.2"/><rect x="376.5" y="462.6" width="5.2" height="4.2"/><rect x="387.4" y="465.7" width="5.2" height="4.2"/><rect x="391.0" y="465.7" width="5.2" height="4.2"/><rect x="405.4" y="465.7" width="5.2" height="4.2"/><rect x="369.3" y="468.8" width="5.2" height="4.2"/><rect x="340.5" y="478.1" width="5.2" height="4.2"/><rect x="362.1" y="478.1" width="5.2" height="4.2"/><rect x="387.4" y="478.1" width="5.2" height="4.2"/><rect x="340.5" y="484.2" width="5.2" height="4.2"/><rect x="344.1" y="487.3" width="5.2" height="4.2"/><rect x="354.9" y="487.3" width="5.2" height="4.2"/><rect x="394.6" y="487.3" width="5.2" height="4.2"/><rect x="445.0" y="465.7" width="5.2" height="4.2"/><rect x="427.0" y="481.1" width="5.2" height="4.2"/><rect x="412.6" y="496.6" width="5.2" height="4.2"/><rect x="290.0" y="536.8" width="5.2" height="4.2"/><rect x="293.6" y="539.9" width="5.2" height="4.2"/><rect x="272.0" y="549.1" width="5.2" height="4.2"/><rect x="293.6" y="549.1" width="5.2" height="4.2"/><rect x="279.2" y="552.2" width="5.2" height="4.2"/><rect x="405.4" y="502.8" width="5.2" height="4.2"/><rect x="405.4" y="512.0" width="5.2" height="4.2"/><rect x="293.6" y="564.6" width="5.2" height="4.2"/><rect x="268.4" y="567.7" width="5.2" height="4.2"/><rect x="286.4" y="567.7" width="5.2" height="4.2"/><rect x="290.0" y="567.7" width="5.2" height="4.2"/><rect x="293.6" y="567.7" width="5.2" height="4.2"/><rect x="272.0" y="570.8" width="5.2" height="4.2"/><rect x="286.4" y="570.8" width="5.2" height="4.2"/><rect x="268.4" y="573.9" width="5.2" height="4.2"/><rect x="293.6" y="573.9" width="5.2" height="4.2"/><rect x="275.6" y="576.9" width="5.2" height="4.2"/><rect x="279.2" y="576.9" width="5.2" height="4.2"/><rect x="286.4" y="576.9" width="5.2" height="4.2"/><rect x="272.0" y="580.0" width="5.2" height="4.2"/><rect x="293.6" y="580.0" width="5.2" height="4.2"/><rect x="279.2" y="583.1" width="5.2" height="4.2"/><rect x="286.4" y="586.2" width="5.2" height="4.2"/><rect x="293.6" y="586.2" width="5.2" height="4.2"/><rect x="279.2" y="592.4" width="5.2" height="4.2"/><rect x="264.8" y="595.5" width="5.2" height="4.2"/><rect x="272.0" y="595.5" width="5.2" height="4.2"/><rect x="282.8" y="598.6" width="5.2" height="4.2"/><rect x="264.8" y="601.7" width="5.2" height="4.2"/><rect x="279.2" y="601.7" width="5.2" height="4.2"/><rect x="293.6" y="601.7" width="5.2" height="4.2"/><rect x="286.4" y="607.8" width="5.2" height="4.2"/><rect x="412.6" y="555.3" width="5.2" height="4.2"/><rect x="293.6" y="614.0" width="5.2" height="4.2"/><rect x="268.4" y="617.1" width="5.2" height="4.2"/><rect x="336.9" y="617.1" width="5.2" height="4.2"/><rect x="257.6" y="620.2" width="5.2" height="4.2"/><rect x="264.8" y="620.2" width="5.2" height="4.2"/><rect x="293.6" y="620.2" width="5.2" height="4.2"/><rect x="286.4" y="623.3" width="5.2" height="4.2"/><rect x="264.8" y="626.4" width="5.2" height="4.2"/><rect x="286.4" y="626.4" width="5.2" height="4.2"/><rect x="318.9" y="632.6" width="5.2" height="4.2"/><rect x="318.9" y="635.7" width="5.2" height="4.2"/><rect x="369.3" y="623.3" width="5.2" height="4.2"/><rect x="383.8" y="629.5" width="5.2" height="4.2"/><rect x="178.3" y="641.8" width="5.2" height="4.2"/><rect x="178.3" y="644.9" width="5.2" height="4.2"/><rect x="217.9" y="644.9" width="5.2" height="4.2"/><rect x="207.1" y="663.5" width="5.2" height="4.2"/><rect x="243.2" y="666.5" width="5.2" height="4.2"/><rect x="210.7" y="678.9" width="5.2" height="4.2"/><rect x="228.7" y="678.9" width="5.2" height="4.2"/><rect x="243.2" y="678.9" width="5.2" height="4.2"/><rect x="250.4" y="678.9" width="5.2" height="4.2"/><rect x="225.1" y="682.0" width="5.2" height="4.2"/><rect x="228.7" y="682.0" width="5.2" height="4.2"/><rect x="243.2" y="682.0" width="5.2" height="4.2"/><rect x="239.6" y="685.1" width="5.2" height="4.2"/><rect x="243.2" y="685.1" width="5.2" height="4.2"/><rect x="250.4" y="685.1" width="5.2" height="4.2"/><rect x="232.3" y="688.2" width="5.2" height="4.2"/><rect x="236.0" y="688.2" width="5.2" height="4.2"/><rect x="254.0" y="688.2" width="5.2" height="4.2"/><rect x="246.8" y="694.4" width="5.2" height="4.2"/><rect x="228.7" y="697.4" width="5.2" height="4.2"/><rect x="232.3" y="697.4" width="5.2" height="4.2"/><rect x="207.1" y="703.6" width="5.2" height="4.2"/><rect x="214.3" y="703.6" width="5.2" height="4.2"/><rect x="246.8" y="703.6" width="5.2" height="4.2"/><rect x="254.0" y="703.6" width="5.2" height="4.2"/><rect x="178.3" y="706.7" width="5.2" height="4.2"/><rect x="214.3" y="706.7" width="5.2" height="4.2"/><rect x="185.5" y="709.8" width="5.2" height="4.2"/><rect x="189.1" y="712.9" width="5.2" height="4.2"/><rect x="239.6" y="712.9" width="5.2" height="4.2"/><rect x="275.6" y="678.9" width="5.2" height="4.2"/><rect x="282.8" y="678.9" width="5.2" height="4.2"/><rect x="286.4" y="678.9" width="5.2" height="4.2"/><rect x="268.4" y="682.0" width="5.2" height="4.2"/><rect x="279.2" y="682.0" width="5.2" height="4.2"/><rect x="300.8" y="685.1" width="5.2" height="4.2"/><rect x="264.8" y="688.2" width="5.2" height="4.2"/><rect x="174.7" y="706.7" width="5.2" height="4.2"/><rect x="117.0" y="709.8" width="5.2" height="4.2"/><rect x="120.6" y="709.8" width="5.2" height="4.2"/><rect x="124.2" y="709.8" width="5.2" height="4.2"/><rect x="135.0" y="712.9" width="5.2" height="4.2"/><rect x="163.9" y="712.9" width="5.2" height="4.2"/><rect x="113.4" y="719.1" width="5.2" height="4.2"/><rect x="135.0" y="719.1" width="5.2" height="4.2"/><rect x="145.8" y="719.1" width="5.2" height="4.2"/><rect x="109.8" y="722.2" width="5.2" height="4.2"/><rect x="142.2" y="722.2" width="5.2" height="4.2"/><rect x="153.0" y="722.2" width="5.2" height="4.2"/><rect x="131.4" y="725.3" width="5.2" height="4.2"/><rect x="135.0" y="725.3" width="5.2" height="4.2"/><rect x="145.8" y="725.3" width="5.2" height="4.2"/><rect x="113.4" y="728.3" width="5.2" height="4.2"/><rect x="117.0" y="740.7" width="5.2" height="4.2"/><rect x="124.2" y="740.7" width="5.2" height="4.2"/><rect x="145.8" y="740.7" width="5.2" height="4.2"/><rect x="254.0" y="570.8" width="5.2" height="4.2"/><rect x="109.8" y="623.3" width="5.2" height="4.2"/><rect x="117.0" y="629.5" width="5.2" height="4.2"/><rect x="120.6" y="657.3" width="5.2" height="4.2"/><rect x="336.9" y="493.5" width="5.2" height="4.2"/><rect x="329.7" y="496.6" width="5.2" height="4.2"/><rect x="344.1" y="496.6" width="5.2" height="4.2"/><rect x="347.7" y="496.6" width="5.2" height="4.2"/><rect x="329.7" y="499.7" width="5.2" height="4.2"/><rect x="318.9" y="502.8" width="5.2" height="4.2"/><rect x="333.3" y="502.8" width="5.2" height="4.2"/><rect x="347.7" y="502.8" width="5.2" height="4.2"/><rect x="322.5" y="505.9" width="5.2" height="4.2"/><rect x="336.9" y="505.9" width="5.2" height="4.2"/><rect x="347.7" y="505.9" width="5.2" height="4.2"/><rect x="315.3" y="509.0" width="5.2" height="4.2"/><rect x="326.1" y="509.0" width="5.2" height="4.2"/><rect x="333.3" y="509.0" width="5.2" height="4.2"/><rect x="336.9" y="509.0" width="5.2" height="4.2"/><rect x="315.3" y="512.0" width="5.2" height="4.2"/><rect x="318.9" y="512.0" width="5.2" height="4.2"/><rect x="336.9" y="512.0" width="5.2" height="4.2"/><rect x="308.1" y="515.1" width="5.2" height="4.2"/><rect x="311.7" y="515.1" width="5.2" height="4.2"/><rect x="318.9" y="515.1" width="5.2" height="4.2"/><rect x="333.3" y="515.1" width="5.2" height="4.2"/><rect x="347.7" y="515.1" width="5.2" height="4.2"/><rect x="308.1" y="518.2" width="5.2" height="4.2"/><rect x="311.7" y="518.2" width="5.2" height="4.2"/><rect x="318.9" y="518.2" width="5.2" height="4.2"/><rect x="329.7" y="518.2" width="5.2" height="4.2"/><rect x="333.3" y="518.2" width="5.2" height="4.2"/><rect x="344.1" y="518.2" width="5.2" height="4.2"/><rect x="347.7" y="518.2" width="5.2" height="4.2"/><rect x="311.7" y="521.3" width="5.2" height="4.2"/><rect x="318.9" y="521.3" width="5.2" height="4.2"/><rect x="304.5" y="524.4" width="5.2" height="4.2"/><rect x="329.7" y="524.4" width="5.2" height="4.2"/><rect x="336.9" y="524.4" width="5.2" height="4.2"/><rect x="308.1" y="527.5" width="5.2" height="4.2"/><rect x="326.1" y="527.5" width="5.2" height="4.2"/><rect x="336.9" y="527.5" width="5.2" height="4.2"/><rect x="300.8" y="530.6" width="5.2" height="4.2"/><rect x="311.7" y="530.6" width="5.2" height="4.2"/><rect x="315.3" y="530.6" width="5.2" height="4.2"/><rect x="333.3" y="530.6" width="5.2" height="4.2"/><rect x="344.1" y="530.6" width="5.2" height="4.2"/><rect x="347.7" y="530.6" width="5.2" height="4.2"/><rect x="354.9" y="493.5" width="5.2" height="4.2"/><rect x="358.5" y="493.5" width="5.2" height="4.2"/><rect x="365.7" y="493.5" width="5.2" height="4.2"/><rect x="351.3" y="496.6" width="5.2" height="4.2"/><rect x="387.4" y="496.6" width="5.2" height="4.2"/><rect x="398.2" y="496.6" width="5.2" height="4.2"/><rect x="354.9" y="499.7" width="5.2" height="4.2"/><rect x="362.1" y="499.7" width="5.2" height="4.2"/><rect x="365.7" y="499.7" width="5.2" height="4.2"/><rect x="372.9" y="499.7" width="5.2" height="4.2"/><rect x="351.3" y="502.8" width="5.2" height="4.2"/><rect x="369.3" y="502.8" width="5.2" height="4.2"/><rect x="351.3" y="505.9" width="5.2" height="4.2"/><rect x="372.9" y="505.9" width="5.2" height="4.2"/><rect x="376.5" y="505.9" width="5.2" height="4.2"/><rect x="387.4" y="505.9" width="5.2" height="4.2"/><rect x="401.8" y="505.9" width="5.2" height="4.2"/><rect x="351.3" y="509.0" width="5.2" height="4.2"/><rect x="372.9" y="509.0" width="5.2" height="4.2"/><rect x="380.2" y="509.0" width="5.2" height="4.2"/><rect x="362.1" y="512.0" width="5.2" height="4.2"/><rect x="369.3" y="512.0" width="5.2" height="4.2"/><rect x="372.9" y="512.0" width="5.2" height="4.2"/><rect x="358.5" y="515.1" width="5.2" height="4.2"/><rect x="372.9" y="515.1" width="5.2" height="4.2"/><rect x="383.8" y="515.1" width="5.2" height="4.2"/><rect x="354.9" y="518.2" width="5.2" height="4.2"/><rect x="362.1" y="518.2" width="5.2" height="4.2"/><rect x="365.7" y="518.2" width="5.2" height="4.2"/><rect x="372.9" y="518.2" width="5.2" height="4.2"/><rect x="376.5" y="518.2" width="5.2" height="4.2"/><rect x="354.9" y="521.3" width="5.2" height="4.2"/><rect x="358.5" y="521.3" width="5.2" height="4.2"/><rect x="362.1" y="521.3" width="5.2" height="4.2"/><rect x="365.7" y="521.3" width="5.2" height="4.2"/><rect x="372.9" y="521.3" width="5.2" height="4.2"/><rect x="376.5" y="521.3" width="5.2" height="4.2"/><rect x="380.2" y="521.3" width="5.2" height="4.2"/><rect x="354.9" y="524.4" width="5.2" height="4.2"/><rect x="358.5" y="524.4" width="5.2" height="4.2"/><rect x="362.1" y="524.4" width="5.2" height="4.2"/><rect x="365.7" y="524.4" width="5.2" height="4.2"/><rect x="372.9" y="524.4" width="5.2" height="4.2"/><rect x="376.5" y="524.4" width="5.2" height="4.2"/><rect x="398.2" y="524.4" width="5.2" height="4.2"/><rect x="362.1" y="527.5" width="5.2" height="4.2"/><rect x="372.9" y="527.5" width="5.2" height="4.2"/><rect x="358.5" y="533.7" width="5.2" height="4.2"/><rect x="326.1" y="533.7" width="5.2" height="4.2"/><rect x="333.3" y="533.7" width="5.2" height="4.2"/><rect x="336.9" y="533.7" width="5.2" height="4.2"/><rect x="300.8" y="536.8" width="5.2" height="4.2"/><rect x="315.3" y="536.8" width="5.2" height="4.2"/><rect x="347.7" y="536.8" width="5.2" height="4.2"/><rect x="311.7" y="539.9" width="5.2" height="4.2"/><rect x="326.1" y="539.9" width="5.2" height="4.2"/><rect x="329.7" y="539.9" width="5.2" height="4.2"/><rect x="336.9" y="539.9" width="5.2" height="4.2"/><rect x="340.5" y="539.9" width="5.2" height="4.2"/><rect x="347.7" y="539.9" width="5.2" height="4.2"/><rect x="297.2" y="542.9" width="5.2" height="4.2"/><rect x="300.8" y="542.9" width="5.2" height="4.2"/><rect x="315.3" y="542.9" width="5.2" height="4.2"/><rect x="318.9" y="542.9" width="5.2" height="4.2"/><rect x="326.1" y="542.9" width="5.2" height="4.2"/><rect x="329.7" y="542.9" width="5.2" height="4.2"/><rect x="336.9" y="542.9" width="5.2" height="4.2"/><rect x="340.5" y="542.9" width="5.2" height="4.2"/><rect x="308.1" y="546.0" width="5.2" height="4.2"/><rect x="315.3" y="546.0" width="5.2" height="4.2"/><rect x="326.1" y="546.0" width="5.2" height="4.2"/><rect x="329.7" y="546.0" width="5.2" height="4.2"/><rect x="333.3" y="546.0" width="5.2" height="4.2"/><rect x="336.9" y="546.0" width="5.2" height="4.2"/><rect x="300.8" y="549.1" width="5.2" height="4.2"/><rect x="308.1" y="549.1" width="5.2" height="4.2"/><rect x="311.7" y="549.1" width="5.2" height="4.2"/><rect x="326.1" y="549.1" width="5.2" height="4.2"/><rect x="329.7" y="549.1" width="5.2" height="4.2"/><rect x="340.5" y="549.1" width="5.2" height="4.2"/><rect x="344.1" y="549.1" width="5.2" height="4.2"/><rect x="347.7" y="549.1" width="5.2" height="4.2"/><rect x="315.3" y="552.2" width="5.2" height="4.2"/><rect x="326.1" y="552.2" width="5.2" height="4.2"/><rect x="329.7" y="552.2" width="5.2" height="4.2"/><rect x="340.5" y="552.2" width="5.2" height="4.2"/><rect x="300.8" y="555.3" width="5.2" height="4.2"/><rect x="311.7" y="555.3" width="5.2" height="4.2"/><rect x="315.3" y="555.3" width="5.2" height="4.2"/><rect x="318.9" y="555.3" width="5.2" height="4.2"/><rect x="322.5" y="555.3" width="5.2" height="4.2"/><rect x="326.1" y="555.3" width="5.2" height="4.2"/><rect x="329.7" y="555.3" width="5.2" height="4.2"/><rect x="340.5" y="555.3" width="5.2" height="4.2"/><rect x="347.7" y="555.3" width="5.2" height="4.2"/><rect x="311.7" y="558.4" width="5.2" height="4.2"/><rect x="315.3" y="558.4" width="5.2" height="4.2"/><rect x="318.9" y="558.4" width="5.2" height="4.2"/><rect x="322.5" y="558.4" width="5.2" height="4.2"/><rect x="329.7" y="558.4" width="5.2" height="4.2"/><rect x="333.3" y="558.4" width="5.2" height="4.2"/><rect x="336.9" y="558.4" width="5.2" height="4.2"/><rect x="340.5" y="558.4" width="5.2" height="4.2"/><rect x="344.1" y="558.4" width="5.2" height="4.2"/><rect x="304.5" y="561.5" width="5.2" height="4.2"/><rect x="315.3" y="561.5" width="5.2" height="4.2"/><rect x="318.9" y="561.5" width="5.2" height="4.2"/><rect x="329.7" y="561.5" width="5.2" height="4.2"/><rect x="344.1" y="561.5" width="5.2" height="4.2"/><rect x="297.2" y="564.6" width="5.2" height="4.2"/><rect x="304.5" y="564.6" width="5.2" height="4.2"/><rect x="336.9" y="564.6" width="5.2" height="4.2"/><rect x="304.5" y="567.7" width="5.2" height="4.2"/><rect x="333.3" y="567.7" width="5.2" height="4.2"/><rect x="340.5" y="567.7" width="5.2" height="4.2"/><rect x="297.2" y="570.8" width="5.2" height="4.2"/><rect x="308.1" y="570.8" width="5.2" height="4.2"/><rect x="311.7" y="570.8" width="5.2" height="4.2"/><rect x="318.9" y="570.8" width="5.2" height="4.2"/><rect x="340.5" y="570.8" width="5.2" height="4.2"/><rect x="376.5" y="536.8" width="5.2" height="4.2"/><rect x="351.3" y="539.9" width="5.2" height="4.2"/><rect x="354.9" y="539.9" width="5.2" height="4.2"/><rect x="391.0" y="539.9" width="5.2" height="4.2"/><rect x="358.5" y="542.9" width="5.2" height="4.2"/><rect x="362.1" y="542.9" width="5.2" height="4.2"/><rect x="365.7" y="542.9" width="5.2" height="4.2"/><rect x="362.1" y="546.0" width="5.2" height="4.2"/><rect x="365.7" y="546.0" width="5.2" height="4.2"/><rect x="376.5" y="546.0" width="5.2" height="4.2"/><rect x="365.7" y="549.1" width="5.2" height="4.2"/><rect x="351.3" y="552.2" width="5.2" height="4.2"/><rect x="358.5" y="552.2" width="5.2" height="4.2"/><rect x="362.1" y="552.2" width="5.2" height="4.2"/><rect x="365.7" y="552.2" width="5.2" height="4.2"/><rect x="372.9" y="552.2" width="5.2" height="4.2"/><rect x="358.5" y="558.4" width="5.2" height="4.2"/><rect x="376.5" y="558.4" width="5.2" height="4.2"/><rect x="351.3" y="561.5" width="5.2" height="4.2"/><rect x="354.9" y="561.5" width="5.2" height="4.2"/><rect x="358.5" y="561.5" width="5.2" height="4.2"/><rect x="351.3" y="564.6" width="5.2" height="4.2"/><rect x="383.8" y="564.6" width="5.2" height="4.2"/><rect x="354.9" y="567.7" width="5.2" height="4.2"/><rect x="354.9" y="570.8" width="5.2" height="4.2"/><rect x="358.5" y="570.8" width="5.2" height="4.2"/><rect x="311.7" y="573.9" width="5.2" height="4.2"/><rect x="322.5" y="573.9" width="5.2" height="4.2"/><rect x="333.3" y="573.9" width="5.2" height="4.2"/><rect x="340.5" y="573.9" width="5.2" height="4.2"/><rect x="347.7" y="573.9" width="5.2" height="4.2"/><rect x="308.1" y="576.9" width="5.2" height="4.2"/><rect x="329.7" y="576.9" width="5.2" height="4.2"/><rect x="340.5" y="576.9" width="5.2" height="4.2"/><rect x="304.5" y="580.0" width="5.2" height="4.2"/><rect x="318.9" y="583.1" width="5.2" height="4.2"/><rect x="333.3" y="583.1" width="5.2" height="4.2"/><rect x="336.9" y="586.2" width="5.2" height="4.2"/><rect x="300.8" y="589.3" width="5.2" height="4.2"/><rect x="308.1" y="589.3" width="5.2" height="4.2"/><rect x="326.1" y="589.3" width="5.2" height="4.2"/><rect x="336.9" y="589.3" width="5.2" height="4.2"/><rect x="300.8" y="592.4" width="5.2" height="4.2"/><rect x="311.7" y="592.4" width="5.2" height="4.2"/><rect x="326.1" y="592.4" width="5.2" height="4.2"/><rect x="329.7" y="592.4" width="5.2" height="4.2"/><rect x="344.1" y="592.4" width="5.2" height="4.2"/><rect x="300.8" y="595.5" width="5.2" height="4.2"/><rect x="315.3" y="595.5" width="5.2" height="4.2"/><rect x="315.3" y="598.6" width="5.2" height="4.2"/><rect x="297.2" y="601.7" width="5.2" height="4.2"/><rect x="300.8" y="601.7" width="5.2" height="4.2"/><rect x="311.7" y="604.8" width="5.2" height="4.2"/><rect x="329.7" y="610.9" width="5.2" height="4.2"/><rect x="354.9" y="573.9" width="5.2" height="4.2"/><rect x="376.5" y="576.9" width="5.2" height="4.2"/><rect x="387.4" y="583.1" width="5.2" height="4.2"/><rect x="297.2" y="638.7" width="5.2" height="4.2"/><rect x="311.7" y="638.7" width="5.2" height="4.2"/><rect x="315.3" y="638.7" width="5.2" height="4.2"/><rect x="318.9" y="641.8" width="5.2" height="4.2"/><rect x="333.3" y="641.8" width="5.2" height="4.2"/><rect x="347.7" y="641.8" width="5.2" height="4.2"/><rect x="315.3" y="644.9" width="5.2" height="4.2"/><rect x="318.9" y="644.9" width="5.2" height="4.2"/><rect x="326.1" y="644.9" width="5.2" height="4.2"/><rect x="347.7" y="644.9" width="5.2" height="4.2"/><rect x="304.5" y="648.0" width="5.2" height="4.2"/><rect x="322.5" y="648.0" width="5.2" height="4.2"/><rect x="336.9" y="648.0" width="5.2" height="4.2"/><rect x="340.5" y="648.0" width="5.2" height="4.2"/><rect x="318.9" y="651.1" width="5.2" height="4.2"/><rect x="311.7" y="654.2" width="5.2" height="4.2"/><rect x="315.3" y="654.2" width="5.2" height="4.2"/><rect x="351.3" y="654.2" width="5.2" height="4.2"/><rect x="354.9" y="654.2" width="5.2" height="4.2"/><rect x="300.8" y="657.3" width="5.2" height="4.2"/><rect x="329.7" y="657.3" width="5.2" height="4.2"/><rect x="351.3" y="657.3" width="5.2" height="4.2"/><rect x="308.1" y="663.5" width="5.2" height="4.2"/><rect x="311.7" y="663.5" width="5.2" height="4.2"/><rect x="318.9" y="663.5" width="5.2" height="4.2"/><rect x="322.5" y="663.5" width="5.2" height="4.2"/><rect x="340.5" y="663.5" width="5.2" height="4.2"/><rect x="300.8" y="666.5" width="5.2" height="4.2"/><rect x="318.9" y="666.5" width="5.2" height="4.2"/><rect x="351.3" y="666.5" width="5.2" height="4.2"/><rect x="300.8" y="669.6" width="5.2" height="4.2"/><rect x="322.5" y="669.6" width="5.2" height="4.2"/><rect x="333.3" y="669.6" width="5.2" height="4.2"/><rect x="286.4" y="641.8" width="5.2" height="4.2"/><rect x="257.6" y="648.0" width="5.2" height="4.2"/><rect x="261.2" y="648.0" width="5.2" height="4.2"/><rect x="275.6" y="648.0" width="5.2" height="4.2"/><rect x="279.2" y="648.0" width="5.2" height="4.2"/><rect x="254.0" y="651.1" width="5.2" height="4.2"/><rect x="268.4" y="651.1" width="5.2" height="4.2"/><rect x="246.8" y="654.2" width="5.2" height="4.2"/><rect x="261.2" y="654.2" width="5.2" height="4.2"/><rect x="282.8" y="654.2" width="5.2" height="4.2"/><rect x="290.0" y="654.2" width="5.2" height="4.2"/><rect x="268.4" y="657.3" width="5.2" height="4.2"/><rect x="293.6" y="657.3" width="5.2" height="4.2"/><rect x="261.2" y="663.5" width="5.2" height="4.2"/><rect x="279.2" y="663.5" width="5.2" height="4.2"/><rect x="286.4" y="663.5" width="5.2" height="4.2"/><rect x="246.8" y="666.5" width="5.2" height="4.2"/><rect x="254.0" y="666.5" width="5.2" height="4.2"/><rect x="272.0" y="666.5" width="5.2" height="4.2"/><rect x="282.8" y="669.6" width="5.2" height="4.2"/><rect x="286.4" y="669.6" width="5.2" height="4.2"/><rect x="293.6" y="669.6" width="5.2" height="4.2"/><rect x="250.4" y="672.7" width="5.2" height="4.2"/><rect x="257.6" y="672.7" width="5.2" height="4.2"/><rect x="261.2" y="672.7" width="5.2" height="4.2"/><rect x="268.4" y="672.7" width="5.2" height="4.2"/><rect x="282.8" y="672.7" width="5.2" height="4.2"/><rect x="286.4" y="672.7" width="5.2" height="4.2"/><rect x="246.8" y="675.8" width="5.2" height="4.2"/><rect x="261.2" y="675.8" width="5.2" height="4.2"/><rect x="264.8" y="675.8" width="5.2" height="4.2"/><rect x="275.6" y="675.8" width="5.2" height="4.2"/><rect x="286.4" y="675.8" width="5.2" height="4.2"/><rect x="354.9" y="638.7" width="5.2" height="4.2"/><rect x="347.7" y="682.0" width="5.2" height="4.2"/><rect x="117.6" y="348.6" width="5.2" height="4.2"/><rect x="131.2" y="348.6" width="5.2" height="4.2"/><rect x="134.8" y="348.6" width="5.2" height="4.2"/><rect x="145.4" y="348.6" width="5.2" height="4.2"/><rect x="148.9" y="348.6" width="5.2" height="4.2"/><rect x="171.4" y="348.6" width="5.2" height="4.2"/><rect x="175.0" y="348.6" width="5.2" height="4.2"/><rect x="178.6" y="348.6" width="5.2" height="4.2"/><rect x="182.2" y="348.6" width="5.2" height="4.2"/><rect x="185.8" y="348.6" width="5.2" height="4.2"/><rect x="190.0" y="348.6" width="5.2" height="4.2"/><rect x="196.1" y="348.6" width="5.2" height="4.2"/><rect x="225.8" y="348.6" width="5.2" height="4.2"/><rect x="246.6" y="348.6" width="5.2" height="4.2"/><rect x="250.6" y="348.6" width="5.2" height="4.2"/><rect x="257.6" y="348.6" width="5.2" height="4.2"/><rect x="261.9" y="348.6" width="5.2" height="4.2"/><rect x="268.9" y="348.6" width="5.2" height="4.2"/><rect x="297.1" y="348.6" width="5.2" height="4.2"/><rect x="301.4" y="348.6" width="5.2" height="4.2"/><rect x="361.9" y="348.6" width="5.2" height="4.2"/><rect x="369.6" y="348.6" width="5.2" height="4.2"/><rect x="383.9" y="348.6" width="5.2" height="4.2"/><rect x="437.7" y="348.6" width="5.2" height="4.2"/><rect x="455.6" y="348.6" width="5.2" height="4.2"/><rect x="484.7" y="348.6" width="5.2" height="4.2"/><rect x="509.9" y="348.6" width="5.2" height="4.2"/><rect x="178.6" y="360.8" width="5.2" height="4.2"/><rect x="509.9" y="355.2" width="5.2" height="4.2"/><rect x="509.9" y="391.9" width="5.2" height="4.2"/><rect x="509.9" y="413.4" width="5.2" height="4.2"/><rect x="509.9" y="422.3" width="5.2" height="4.2"/></g>
<g fill="#adadad"><rect x="315.9" y="456.8" width="4.0" height="3.4"/><rect x="312.3" y="463.0" width="4.0" height="3.4"/><rect x="337.5" y="490.8" width="4.0" height="3.4"/><rect x="395.2" y="478.5" width="4.0" height="3.4"/><rect x="359.1" y="481.5" width="4.0" height="3.4"/><rect x="355.5" y="484.6" width="4.0" height="3.4"/><rect x="395.2" y="484.6" width="4.0" height="3.4"/><rect x="351.9" y="487.7" width="4.0" height="3.4"/><rect x="290.6" y="527.9" width="4.0" height="3.4"/><rect x="283.4" y="574.3" width="4.0" height="3.4"/><rect x="269.0" y="589.7" width="4.0" height="3.4"/><rect x="287.0" y="592.8" width="4.0" height="3.4"/><rect x="290.6" y="592.8" width="4.0" height="3.4"/><rect x="258.2" y="595.9" width="4.0" height="3.4"/><rect x="290.6" y="599.0" width="4.0" height="3.4"/><rect x="283.4" y="602.1" width="4.0" height="3.4"/><rect x="276.2" y="608.2" width="4.0" height="3.4"/><rect x="276.2" y="617.5" width="4.0" height="3.4"/><rect x="254.6" y="679.3" width="4.0" height="3.4"/><rect x="211.3" y="707.1" width="4.0" height="3.4"/><rect x="225.7" y="713.3" width="4.0" height="3.4"/><rect x="182.5" y="719.5" width="4.0" height="3.4"/><rect x="258.2" y="679.3" width="4.0" height="3.4"/><rect x="261.8" y="679.3" width="4.0" height="3.4"/><rect x="258.2" y="682.4" width="4.0" height="3.4"/><rect x="135.6" y="707.1" width="4.0" height="3.4"/><rect x="128.4" y="722.6" width="4.0" height="3.4"/><rect x="128.4" y="728.7" width="4.0" height="3.4"/><rect x="110.4" y="731.8" width="4.0" height="3.4"/><rect x="114.0" y="731.8" width="4.0" height="3.4"/><rect x="117.6" y="731.8" width="4.0" height="3.4"/><rect x="333.9" y="497.0" width="4.0" height="3.4"/><rect x="319.5" y="500.1" width="4.0" height="3.4"/><rect x="341.1" y="500.1" width="4.0" height="3.4"/><rect x="344.7" y="506.3" width="4.0" height="3.4"/><rect x="308.7" y="512.4" width="4.0" height="3.4"/><rect x="348.3" y="512.4" width="4.0" height="3.4"/><rect x="315.9" y="515.5" width="4.0" height="3.4"/><rect x="323.1" y="515.5" width="4.0" height="3.4"/><rect x="337.5" y="515.5" width="4.0" height="3.4"/><rect x="344.7" y="515.5" width="4.0" height="3.4"/><rect x="323.1" y="518.6" width="4.0" height="3.4"/><rect x="315.9" y="521.7" width="4.0" height="3.4"/><rect x="312.3" y="524.8" width="4.0" height="3.4"/><rect x="319.5" y="524.8" width="4.0" height="3.4"/><rect x="341.1" y="524.8" width="4.0" height="3.4"/><rect x="344.7" y="524.8" width="4.0" height="3.4"/><rect x="348.3" y="524.8" width="4.0" height="3.4"/><rect x="312.3" y="527.9" width="4.0" height="3.4"/><rect x="330.3" y="527.9" width="4.0" height="3.4"/><rect x="337.5" y="531.0" width="4.0" height="3.4"/><rect x="369.9" y="500.1" width="4.0" height="3.4"/><rect x="366.3" y="506.3" width="4.0" height="3.4"/><rect x="351.9" y="512.4" width="4.0" height="3.4"/><rect x="369.9" y="518.6" width="4.0" height="3.4"/><rect x="391.6" y="518.6" width="4.0" height="3.4"/><rect x="369.9" y="521.7" width="4.0" height="3.4"/><rect x="351.9" y="524.8" width="4.0" height="3.4"/><rect x="369.9" y="524.8" width="4.0" height="3.4"/><rect x="388.0" y="524.8" width="4.0" height="3.4"/><rect x="366.3" y="527.9" width="4.0" height="3.4"/><rect x="355.5" y="531.0" width="4.0" height="3.4"/><rect x="373.5" y="531.0" width="4.0" height="3.4"/><rect x="330.3" y="537.2" width="4.0" height="3.4"/><rect x="333.9" y="537.2" width="4.0" height="3.4"/><rect x="337.5" y="537.2" width="4.0" height="3.4"/><rect x="344.7" y="537.2" width="4.0" height="3.4"/><rect x="308.7" y="540.3" width="4.0" height="3.4"/><rect x="323.1" y="540.3" width="4.0" height="3.4"/><rect x="323.1" y="543.3" width="4.0" height="3.4"/><rect x="333.9" y="543.3" width="4.0" height="3.4"/><rect x="344.7" y="543.3" width="4.0" height="3.4"/><rect x="348.3" y="543.3" width="4.0" height="3.4"/><rect x="312.3" y="546.4" width="4.0" height="3.4"/><rect x="319.5" y="546.4" width="4.0" height="3.4"/><rect x="323.1" y="546.4" width="4.0" height="3.4"/><rect x="341.1" y="546.4" width="4.0" height="3.4"/><rect x="323.1" y="549.5" width="4.0" height="3.4"/><rect x="333.9" y="549.5" width="4.0" height="3.4"/><rect x="312.3" y="552.6" width="4.0" height="3.4"/><rect x="319.5" y="552.6" width="4.0" height="3.4"/><rect x="323.1" y="552.6" width="4.0" height="3.4"/><rect x="333.9" y="552.6" width="4.0" height="3.4"/><rect x="344.7" y="552.6" width="4.0" height="3.4"/><rect x="308.7" y="555.7" width="4.0" height="3.4"/><rect x="333.9" y="555.7" width="4.0" height="3.4"/><rect x="308.7" y="558.8" width="4.0" height="3.4"/><rect x="308.7" y="561.9" width="4.0" height="3.4"/><rect x="312.3" y="561.9" width="4.0" height="3.4"/><rect x="323.1" y="561.9" width="4.0" height="3.4"/><rect x="326.7" y="561.9" width="4.0" height="3.4"/><rect x="341.1" y="561.9" width="4.0" height="3.4"/><rect x="308.7" y="565.0" width="4.0" height="3.4"/><rect x="312.3" y="565.0" width="4.0" height="3.4"/><rect x="315.9" y="565.0" width="4.0" height="3.4"/><rect x="319.5" y="565.0" width="4.0" height="3.4"/><rect x="323.1" y="565.0" width="4.0" height="3.4"/><rect x="326.7" y="565.0" width="4.0" height="3.4"/><rect x="341.1" y="565.0" width="4.0" height="3.4"/><rect x="308.7" y="568.1" width="4.0" height="3.4"/><rect x="312.3" y="568.1" width="4.0" height="3.4"/><rect x="315.9" y="568.1" width="4.0" height="3.4"/><rect x="319.5" y="568.1" width="4.0" height="3.4"/><rect x="323.1" y="568.1" width="4.0" height="3.4"/><rect x="344.7" y="568.1" width="4.0" height="3.4"/><rect x="326.7" y="571.2" width="4.0" height="3.4"/><rect x="355.5" y="534.1" width="4.0" height="3.4"/><rect x="362.7" y="537.2" width="4.0" height="3.4"/><rect x="369.9" y="537.2" width="4.0" height="3.4"/><rect x="351.9" y="546.4" width="4.0" height="3.4"/><rect x="355.5" y="546.4" width="4.0" height="3.4"/><rect x="369.9" y="546.4" width="4.0" height="3.4"/><rect x="351.9" y="549.5" width="4.0" height="3.4"/><rect x="355.5" y="549.5" width="4.0" height="3.4"/><rect x="355.5" y="552.6" width="4.0" height="3.4"/><rect x="369.9" y="558.8" width="4.0" height="3.4"/><rect x="355.5" y="565.0" width="4.0" height="3.4"/><rect x="297.8" y="574.3" width="4.0" height="3.4"/><rect x="308.7" y="574.3" width="4.0" height="3.4"/><rect x="312.3" y="577.3" width="4.0" height="3.4"/><rect x="315.9" y="577.3" width="4.0" height="3.4"/><rect x="319.5" y="577.3" width="4.0" height="3.4"/><rect x="308.7" y="580.4" width="4.0" height="3.4"/><rect x="312.3" y="580.4" width="4.0" height="3.4"/><rect x="315.9" y="580.4" width="4.0" height="3.4"/><rect x="319.5" y="580.4" width="4.0" height="3.4"/><rect x="326.7" y="580.4" width="4.0" height="3.4"/><rect x="344.7" y="580.4" width="4.0" height="3.4"/><rect x="308.7" y="583.5" width="4.0" height="3.4"/><rect x="337.5" y="583.5" width="4.0" height="3.4"/><rect x="344.7" y="583.5" width="4.0" height="3.4"/><rect x="297.8" y="586.6" width="4.0" height="3.4"/><rect x="308.7" y="586.6" width="4.0" height="3.4"/><rect x="319.5" y="589.7" width="4.0" height="3.4"/><rect x="344.7" y="589.7" width="4.0" height="3.4"/><rect x="308.7" y="592.8" width="4.0" height="3.4"/><rect x="312.3" y="599.0" width="4.0" height="3.4"/><rect x="301.4" y="611.3" width="4.0" height="3.4"/><rect x="362.7" y="577.3" width="4.0" height="3.4"/><rect x="351.9" y="580.4" width="4.0" height="3.4"/><rect x="351.9" y="599.0" width="4.0" height="3.4"/><rect x="297.8" y="648.4" width="4.0" height="3.4"/><rect x="330.3" y="648.4" width="4.0" height="3.4"/><rect x="330.3" y="651.5" width="4.0" height="3.4"/><rect x="333.9" y="657.7" width="4.0" height="3.4"/><rect x="355.5" y="657.7" width="4.0" height="3.4"/><rect x="308.7" y="660.8" width="4.0" height="3.4"/><rect x="312.3" y="660.8" width="4.0" height="3.4"/><rect x="323.1" y="660.8" width="4.0" height="3.4"/><rect x="305.1" y="663.9" width="4.0" height="3.4"/><rect x="308.7" y="666.9" width="4.0" height="3.4"/><rect x="308.7" y="673.1" width="4.0" height="3.4"/><rect x="301.4" y="676.2" width="4.0" height="3.4"/><rect x="290.6" y="651.5" width="4.0" height="3.4"/><rect x="290.6" y="660.8" width="4.0" height="3.4"/><rect x="294.2" y="660.8" width="4.0" height="3.4"/><rect x="290.6" y="663.9" width="4.0" height="3.4"/><rect x="294.2" y="663.9" width="4.0" height="3.4"/><rect x="294.2" y="666.9" width="4.0" height="3.4"/><rect x="276.2" y="670.0" width="4.0" height="3.4"/><rect x="290.6" y="670.0" width="4.0" height="3.4"/><rect x="294.2" y="673.1" width="4.0" height="3.4"/><rect x="254.6" y="676.2" width="4.0" height="3.4"/><rect x="258.2" y="676.2" width="4.0" height="3.4"/><rect x="269.0" y="676.2" width="4.0" height="3.4"/><rect x="140.2" y="349.0" width="4.0" height="3.4"/><rect x="157.0" y="349.0" width="4.0" height="3.4"/><rect x="161.0" y="349.0" width="4.0" height="3.4"/><rect x="165.5" y="349.0" width="4.0" height="3.4"/><rect x="202.0" y="349.0" width="4.0" height="3.4"/><rect x="208.2" y="349.0" width="4.0" height="3.4"/><rect x="219.0" y="349.0" width="4.0" height="3.4"/><rect x="243.5" y="349.0" width="4.0" height="3.4"/><rect x="345.0" y="349.0" width="4.0" height="3.4"/><rect x="358.5" y="349.0" width="4.0" height="3.4"/><rect x="445.6" y="349.0" width="4.0" height="3.4"/><rect x="510.5" y="361.1" width="4.0" height="3.4"/></g>
</svg>
</body></html>
